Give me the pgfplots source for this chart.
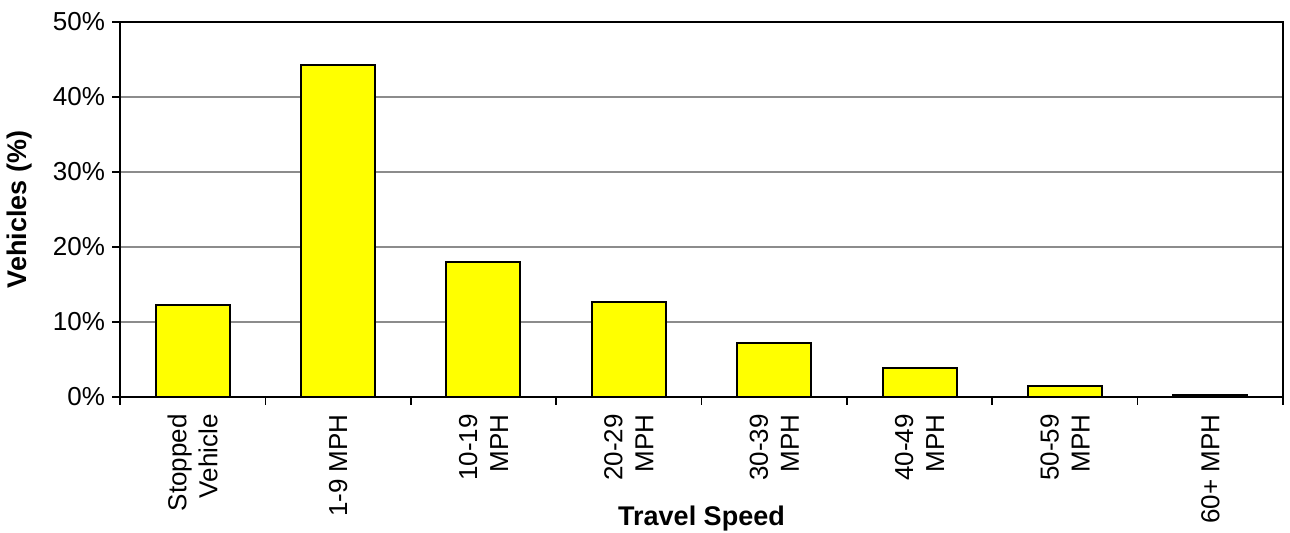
\documentclass[border=0pt]{standalone}
\usepackage{pgfplots}
\pgfplotsset{compat=1.18}
\usepackage{fontspec}
\setmainfont{Liberation Sans}
\begin{document}
\begin{tikzpicture}
\begin{axis}[
  at={(0,0)}, anchor=south west,
  scale only axis,
  width=581.5pt, height=187.5pt,
  xmin=-0.5, xmax=7.5,
  ymin=0, ymax=50,
  axis line style={black, line width=0.8pt},
  ytick={0,10,20,30,40,50},
  yticklabel={\pgfmathprintnumber{\tick}\%},
  /pgf/number format/assume math mode=true,
  ymajorgrids,
  grid style={draw=gray!90, line width=0.8pt},
  tick align=outside,
  tick style={black, line width=0.8pt},
  major tick length=4pt,
  minor tick length=4pt,
  xtick={0,1,2,3,4,5,6,7},
  xticklabels={{Stopped\\Vehicle},{1-9 MPH},{10-19\\MPH},{20-29\\MPH},{30-39\\MPH},{40-49\\MPH},{50-59\\MPH},{60+ MPH}},
  x tick style={draw=none},
  minor xtick={-0.5,0.5,1.5,2.5,3.5,4.5,5.5,6.5,7.5},
  minor x tick style={draw=black, line width=0.8pt},
  xtick pos=lower, ytick pos=left,
  xticklabel style={rotate=90, anchor=east, align=right, font=\fontsize{13}{15.5}\selectfont, inner sep=0pt, xshift=-4.5pt},
  yticklabel style={font=\fontsize{13}{15}\selectfont},
  xlabel={\textbf{Travel Speed}},
  ylabel={\textbf{Vehicles (\%)}},
  every axis x label/.style={at={(axis description cs:0.5,-0.323)}, anchor=center, font=\fontsize{13.5}{15}\selectfont},
  every axis y label/.style={at={(axis description cs:-0.086,0.5)}, anchor=center, rotate=90, font=\fontsize{13.5}{15}\selectfont},
  ybar, bar width=37pt,
]
\addplot[fill={rgb,255:red,255;green,255;blue,0}, draw=black, line width=1pt] coordinates {
(0,12.3) (1,44.3) (2,18.0) (3,12.6) (4,7.2) (5,3.8) (6,1.4) (7,0.3)};
\end{axis}
\pgfresetboundingbox
\path (-60pt,-68pt) rectangle (585pt,198.5pt);
\end{tikzpicture}
\end{document}
